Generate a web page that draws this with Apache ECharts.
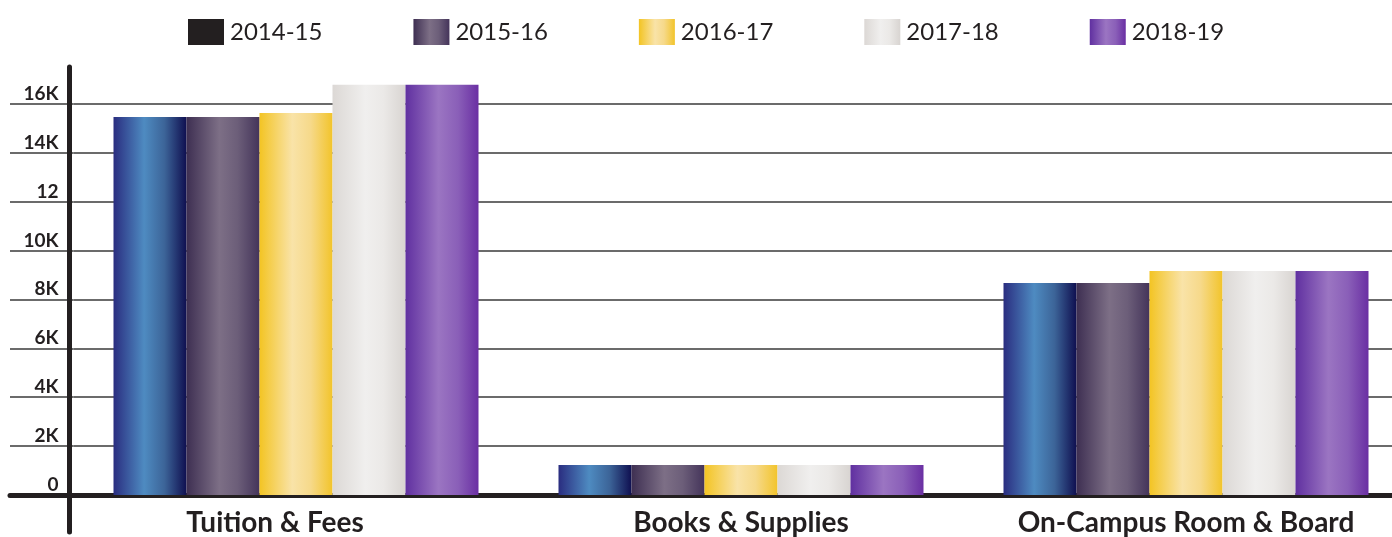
<!DOCTYPE html>
<html>
<head>
<meta charset="utf-8">
<script src="https://cdn.jsdelivr.net/npm/echarts@6/dist/echarts.min.js"></script>
<style>
html,body{margin:0;padding:0;background:#fff;}
#main{width:1392px;height:537px;}
</style>
</head>
<body>
<div id="main"></div>
<script>
const categories = ['Tuition & Fees', 'Books & Supplies', 'On-Campus Room & Board'];
const seriesNames = ['2014-15', '2015-16', '2016-17', '2017-18', '2018-19'];
const s2014_15 = [15460, 1230, 8670];
const s2015_16 = [15460, 1230, 8670];
const s2016_17 = [15620, 1230, 9160];
const s2017_18 = [16770, 1230, 9160];
const s2018_19 = [16770, 1230, 9160];
const yTickLabels = ['0', '2K', '4K', '6K', '8K', '10K', '12', '14K', '16K'];

const FONT = 'Lato';
const INK = '#231f20';

function grad(stops) {
  return new echarts.graphic.LinearGradient(0, 0, 1, 0,
    stops.map(function (s) { return { offset: s[0], color: s[1] }; }));
}
const fills = [
  grad([[0, '#2a2d80'], [0.42, '#4e8bc1'], [0.7, '#3c6498'], [1, '#0f0f50']]),
  grad([[0, '#3e2f52'], [0.45, '#7d6f86'], [0.7, '#6c5e79'], [1, '#44345a']]),
  grad([[0, '#f3c423'], [0.45, '#f9e3a8'], [0.7, '#f6d98a'], [1, '#f2c42b']]),
  grad([[0, '#dcd8d5'], [0.45, '#f0efee'], [0.7, '#ebe9e7'], [1, '#d8d4d1']]),
  grad([[0, '#6030a0'], [0.45, '#9b75c2'], [0.72, '#8a5fb8'], [1, '#6a2fa3']])
];
const values = [s2014_15, s2015_16, s2016_17, s2017_18, s2018_19];

const chart = echarts.init(document.getElementById('main'), null, { renderer: 'canvas' });

const yCommon = { type: 'value', min: 0, max: 17500, interval: 2000 };

const option = {
  animation: false,
  backgroundColor: '#ffffff',
  legend: {
    left: 183, top: 14,
    itemWidth: 36, itemHeight: 26, itemGap: 91,
    icon: 'rect',
    textStyle: { fontFamily: FONT, fontSize: 24, color: INK, padding: [0, 0, 0, 1] },
    data: seriesNames.map(function (n, i) {
      return i === 0 ? { name: n, itemStyle: { color: INK } } : { name: n };
    })
  },
  grid: [
    { left: 10, width: 63.5, top: 67, bottom: 42, outerBoundsMode: 'none' },
    { left: 73.5, width: 1335, top: 67, bottom: 42, outerBoundsMode: 'none' },
    { left: 69.5, width: 1, top: 67, bottom: 5, outerBoundsMode: 'none' }
  ],
  xAxis: [
    { gridIndex: 0, type: 'category', data: [''],
      axisLine: { lineStyle: { color: INK, width: 5 } }, axisTick: { show: false }, axisLabel: { show: false } },
    { gridIndex: 1, type: 'category',
      data: categories.map(function (c, i) {
        return i === 0 ? { value: c, textStyle: { padding: [0, 42, 0, 0] } } : { value: c };
      }),
      axisLine: { lineStyle: { color: INK, width: 5 } }, axisTick: { show: false },
      axisLabel: { interval: 0, hideOverlap: false, fontFamily: FONT, fontSize: 28, fontWeight: 'bold', color: INK, margin: 14 } },
    { gridIndex: 2, type: 'value', show: false }
  ],
  yAxis: [
    Object.assign({ gridIndex: 0, position: 'right',
      axisLine: { show: false }, axisTick: { show: false },
      splitLine: { show: true, showMaxLine: false, lineStyle: { color: '#3a3a3a', width: 1.6 } },
      axisLabel: { inside: true, margin: 15, fontFamily: FONT, fontSize: 19, fontWeight: 'bold', color: INK,
        verticalAlign: 'bottom', lineHeight: 20, showMaxLabel: false,
        formatter: function (v) { const i = v / 2000; return Number.isInteger(i) && yTickLabels[i] !== undefined ? yTickLabels[i] : ''; } }
    }, yCommon),
    Object.assign({ gridIndex: 1,
      axisLine: { show: false }, axisTick: { show: false }, axisLabel: { show: false },
      splitLine: { show: true, showMaxLine: false, lineStyle: { color: '#3a3a3a', width: 1.6 } }
    }, yCommon),
    { gridIndex: 2, type: 'value', min: 0, max: 1,
      axisLine: { show: true, lineStyle: { color: INK, width: 5 } },
      axisTick: { show: false }, axisLabel: { show: false }, splitLine: { show: false } }
  ],
  series: seriesNames.map(function (n, i) {
    return {
      name: n, type: 'bar', xAxisIndex: 1, yAxisIndex: 1,
      data: values[i], barWidth: 73, barGap: '0%',
      itemStyle: { color: fills[i] }
    };
  })
};
chart.setOption(option);
</script>
</body>
</html>
